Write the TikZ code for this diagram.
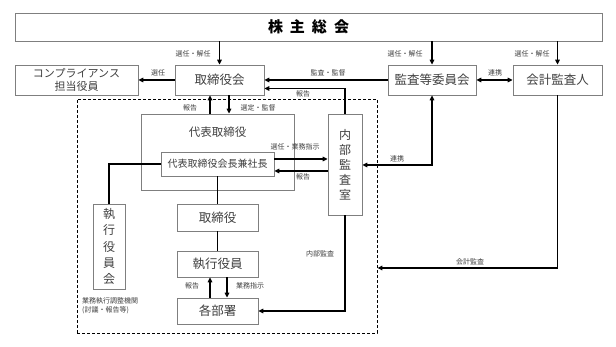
\documentclass[tikz,border=0pt]{standalone}
\usepackage{fontspec}
\setmainfont{Noto Sans CJK JP}
\usetikzlibrary{arrows.meta}
\definecolor{bordc}{HTML}{7F7F7F}
\definecolor{txtc}{HTML}{404040}
\begin{document}
\begin{tikzpicture}[x=1pt,y=-1pt,
  box/.style={draw=bordc, line width=0.8pt, text=txtc, inner sep=0pt, align=center},
  conn/.style={line width=1.2pt, black},
  tip/.tip={Triangle[length=5pt,width=4.6pt]},
  arr/.style={conn, -tip},
  darr/.style={conn, tip-tip},
  lbl/.style={font=\fontsize{7}{8}\selectfont, text=txtc, inner sep=0pt},
  big/.style={font=\fontsize{12.5}{15}\selectfont},
]
\useasboundingbox (0,0) rectangle (616,347);
\fill[white] (0,0) rectangle (616,347);

% dashed group
\node[draw=black, line width=0.9pt, dash pattern=on 3pt off 2pt, minimum width=300pt, minimum height=234pt, inner sep=0pt] (grp) at (227,216) {};

% boxes
\node[box, minimum width=587pt, minimum height=28pt, text=black, font=\fontsize{15}{18}\selectfont\bfseries] (soukai) at (308.5,27) {株\hspace{7pt}主\hspace{7pt}総\hspace{7pt}会};
\node[box, minimum width=123pt, minimum height=30pt, font=\fontsize{11}{13}\selectfont] (comp) at (76.5,80) {コンプライアンス\\担当役員};
\node[box, big, minimum width=89pt, minimum height=30pt] (trk) at (219.5,80) {取締役会};
\node[box, big, minimum width=88pt, minimum height=30pt] (kansa) at (432,80) {監査等委員会};
\node[box, big, minimum width=89pt, minimum height=30pt] (kaikei) at (557.5,80) {会計監査人};

\node[box, minimum width=153pt, minimum height=76pt] (daihyo) at (217.5,152) {};
\node[text=txtc, font=\fontsize{11.5}{14}\selectfont, inner sep=0pt] (daihyot) at (217.5,132) {代表取締役};
\node[box, minimum width=113pt, minimum height=24pt, font=\fontsize{10}{12}\selectfont] (inner) at (217.5,164) {代表取締役会長兼社長};

\node[box, minimum width=34pt, minimum height=101pt, font=\fontsize{12}{15}\selectfont] (naibu) at (345,164.5) {内\\部\\監\\査\\室};
\node[box, minimum width=32pt, minimum height=85pt, font=\fontsize{12}{16.3}\selectfont] (shikkoukai) at (109,246.5) {執\\行\\役\\員\\会};

\node[box, big, minimum width=81pt, minimum height=27pt] (tori) at (217.5,217.5) {取締役};
\node[box, big, minimum width=81pt, minimum height=26pt] (yakuin) at (217.5,264) {執行役員};
\node[box, big, minimum width=81pt, minimum height=26pt] (busho) at (217.5,311) {各部署};

% connectors
\draw[arr] (soukai.south -| trk.north) -- (trk.north);
\draw[arr] (soukai.south -| kansa.north) -- (kansa.north);
\draw[arr] (soukai.south -| kaikei.north) -- (kaikei.north);
\draw[arr] (trk.west) -- (comp.east);
\draw[arr] (kansa.west) -- (trk.east);
\draw[arr] (naibu.north) |- ([yshift=-8.5pt]trk.east);
\draw[darr] (kansa.east) -- (kaikei.west);
\draw[arr] ([xshift=-9.5pt]trk.south |- daihyo.north) -- ([xshift=-9.5pt]trk.south);
\draw[arr] ([xshift=9.5pt]trk.south) -- ([xshift=9.5pt]trk.south |- daihyo.north);
\draw[arr] ([yshift=5pt]inner.east) -- ([yshift=5pt]inner.east -| naibu.west);
\draw[arr] ([yshift=-7pt]inner.east -| naibu.west) -- ([yshift=-7pt]inner.east);
\draw[darr] ([yshift=-0.5pt]naibu.east) -| (kansa.south);
\draw[conn] (inner.west) -| (shikkoukai.north);
\draw[conn] (inner.south) -- (tori.north);
\draw[conn] (tori.south) -- (yakuin.north);
\draw[arr] ([xshift=-7.5pt]busho.north) -- ([xshift=-7.5pt]yakuin.south);
\draw[arr] ([xshift=9.5pt]yakuin.south) -- ([xshift=9.5pt]busho.north);
\draw[arr] (naibu.south) |- (busho.east);
\draw[arr] (kaikei.south) |- ([yshift=-52pt]grp.east);

% labels
\node[lbl] (l1) at (193,54) {選任・解任};
\node[lbl] (l2) at (405,54) {選任・解任};
\node[lbl] (l3) at (532,54) {選任・解任};
\node[lbl] (l4) at (158,73) {選任};
\node[lbl] (l5) at (328,73) {監査・監督};
\node[lbl] (l6) at (303,94) {報告};
\node[lbl] (l7) at (495,73) {連携};
\node[lbl] (l8) at (190,108) {報告};
\node[lbl] (l9) at (258,108) {選定・監督};
\node[lbl] (l10) at (295,147) {選任・業務指示};
\node[lbl] (l11) at (303,177) {報告};
\node[lbl] (l12) at (397,159) {連携};
\node[lbl] (l13) at (320,254) {内部監査};
\node[lbl] (l14) at (192,286) {報告};
\node[lbl] (l15) at (250,286) {業務指示};
\node[lbl] (l16) at (470,262) {会計監査};
\node[lbl, anchor=north west, align=left, font=\fontsize{7}{9}\selectfont] (l17) at (82,297) {業務執行調整機関\\(討議・報告等)};
\end{tikzpicture}
\end{document}
